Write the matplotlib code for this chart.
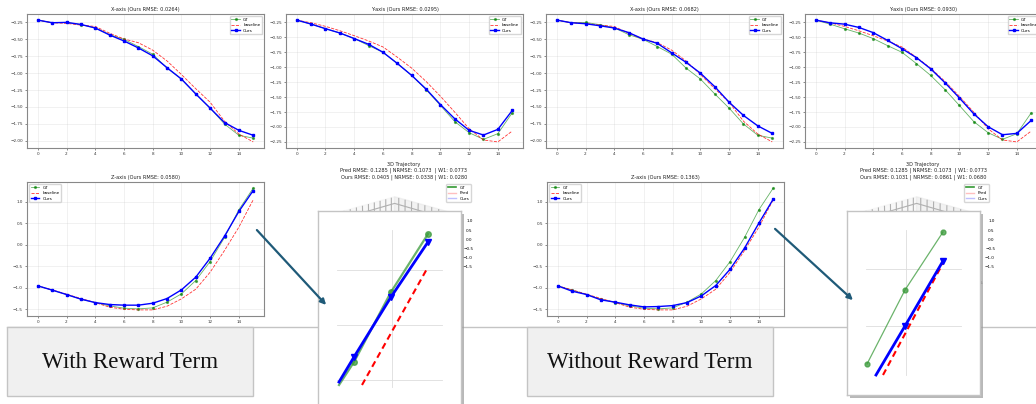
import matplotlib
matplotlib.use('Agg')
import matplotlib.pyplot as plt
from matplotlib.patches import Rectangle, FancyArrowPatch
from matplotlib.lines import Line2D

W, H = 1036, 404

# ---------------- data ----------------
steps = list(range(16))

gt_x = [-0.216, -0.255, -0.25, -0.284, -0.33, -0.43, -0.50, -0.607, -0.72, -0.925,
        -1.087, -1.307, -1.517, -1.752, -1.918, -1.96]
base_x = [-0.216, -0.255, -0.265, -0.29, -0.31, -0.41, -0.495, -0.55, -0.66, -0.82,
          -1.02, -1.23, -1.43, -1.71, -1.90, -2.016]
ours_x_reward = [-0.216, -0.255, -0.25, -0.28, -0.333, -0.436, -0.524, -0.627, -0.744, -0.92,
                 -1.087, -1.307, -1.517, -1.73, -1.845, -1.918]
ours_x_noreward = [-0.216, -0.255, -0.27, -0.30, -0.333, -0.40, -0.495, -0.56, -0.70, -0.84,
                   -1.0, -1.20, -1.43, -1.625, -1.78, -1.89]

gt_y = [-0.211, -0.278, -0.355, -0.427, -0.52, -0.638, -0.749, -0.937, -1.137, -1.375,
        -1.64, -1.91, -2.096, -2.207, -2.112, -1.763]
base_y = [-0.211, -0.256, -0.316, -0.389, -0.472, -0.56, -0.66, -0.832, -1.015, -1.237,
          -1.486, -1.752, -2.03, -2.218, -2.25, -2.068]
ours_y_reward = [-0.211, -0.278, -0.355, -0.427, -0.52, -0.616, -0.749, -0.937, -1.137, -1.364,
                 -1.625, -1.863, -2.057, -2.135, -2.04, -1.724]
ours_y_noreward = [-0.21, -0.256, -0.278, -0.333, -0.42, -0.55, -0.688, -0.838, -1.026, -1.26,
                   -1.514, -1.78, -1.996, -2.13, -2.107, -1.89]

gt_z = [-0.952, -1.05, -1.153, -1.26, -1.34, -1.416, -1.47, -1.486, -1.463, -1.33,
        -1.138, -0.828, -0.387, 0.17, 0.813, 1.316]
base_z = [-0.952, -1.045, -1.145, -1.245, -1.34, -1.447, -1.494, -1.51, -1.51, -1.424,
          -1.254, -1.03, -0.635, -0.132, 0.41, 1.045]
ours_z_reward = [-0.952, -1.05, -1.153, -1.26, -1.34, -1.385, -1.40, -1.40, -1.355, -1.246,
                 -1.045, -0.75, -0.31, 0.20, 0.774, 1.26]
ours_z_noreward = [-0.952, -1.076, -1.153, -1.277, -1.33, -1.393, -1.44, -1.432, -1.41, -1.34,
                   -1.184, -0.944, -0.565, -0.077, 0.503, 1.06]

titles_reward = ["X-axis (Ours RMSE: 0.0264)", "Y-axis (Ours RMSE: 0.0295)", "Z-axis (Ours RMSE: 0.0580)"]
titles_noreward = ["X-axis (Ours RMSE: 0.0682)", "Y-axis (Ours RMSE: 0.0930)", "Z-axis (Ours RMSE: 0.1363)"]

traj_title_reward = ("3D Trajectory\nPred RMSE: 0.1285 | NRMSE: 0.1073  | W1: 0.0773\n"
                     "Ours RMSE: 0.0405 | NRMSE: 0.0338 | W1: 0.0280")
traj_title_noreward = ("3D Trajectory\nPred RMSE: 0.1285 | NRMSE: 0.1073  | W1: 0.0773\n"
                       "Ours RMSE: 0.1031 | NRMSE: 0.0861 | W1: 0.0680")

caption_reward = "With Reward Term"
caption_noreward = "Without Reward Term"

# zoomed-in views of the 3D trajectory (inset units, y grows downward)
zoomA_gt_u = [21, 36, 73, 110]
zoomA_gt_v = [174, 151, 81, 23]
zoomA_ours_u = [21, 36, 73, 110]
zoomA_ours_v = [171, 146, 86, 31]
zoomA_pred_u = [44, 110]
zoomA_pred_v = [174, 56]

zoomB_gt_u = [20, 58, 96]
zoomB_gt_v = [153, 79, 21]
zoomB_ours_u = [29, 58, 96]
zoomB_ours_v = [164, 115, 50]
zoomB_pred_u = [36, 96]
zoomB_pred_v = [164, 52]

# ---------------- helpers ----------------
def frect(x0, y0, x1, y1):
    return [x0 / W, 1 - y1 / H, (x1 - x0) / W, (y1 - y0) / H]


def draw_panel(ax, gt, base, ours, title, loc):
    ax.plot(steps, gt, color='green', marker='o', ms=1.3, lw=0.6, alpha=0.6, label='GT')
    ax.plot(steps, base, color='red', ls='--', lw=0.6, alpha=0.8, label='baseline')
    ax.plot(steps, ours, color='blue', marker='s', ms=1.7, lw=1.0, label='Ours')
    ax.set_title(title, fontsize=3.6, pad=2, color='#222')
    ax.set_xticks(range(0, 15, 2))
    ax.tick_params(labelsize=3, length=1.5, width=0.4, pad=1.5, colors='#333')
    ax.grid(True, alpha=0.3, lw=0.4)
    for s in ax.spines.values():
        s.set_color('#888888')
        s.set_linewidth(0.8)
    ax.legend(loc=loc, fontsize=3, frameon=True, framealpha=0.8, edgecolor='#cccccc',
              borderpad=0.4, labelspacing=0.35, handlelength=2.0, fancybox=True)


def draw_3d(fig, r, gx, gy, gz, px, py, pz, ox, oy, oz, title, title_xy, leg_xy):
    ax = fig.add_axes(r, projection='3d')
    ax.plot(gx, gy, gz, color='green', lw=1.2, alpha=0.8, label='GT')
    ax.plot(px, py, pz, color='red', lw=1.0, alpha=0.25, label='Pred')
    ax.plot(ox, oy, oz, color='blue', lw=1.0, alpha=0.25, label='Ours')
    fig.text(title_xy[0] / W, 1 - title_xy[1] / H, title, ha='center', va='bottom',
             fontsize=3.6, color='#222', linespacing=1.25)
    ax.tick_params(labelsize=3, pad=0, width=0.4, length=1.5)
    ax.view_init(elev=20, azim=135)
    ax.legend(loc='upper right', bbox_to_anchor=(leg_xy[0] / W, 1 - leg_xy[1] / H),
              bbox_transform=fig.transFigure, fontsize=3, framealpha=0.8,
              edgecolor='#cccccc', borderpad=0.4, labelspacing=0.35, handlelength=2.0,
              borderaxespad=0)
    ax.set_facecolor('none')
    return ax


def draw_zoom(fig, r, gt_u, gt_v, ours_u, ours_v, pred_u, pred_v, w, h,
              vgrid, vext, hgrid, hext, gt_lw, gt_ms, gt_marks):
    x0, y0, x1, y1 = r
    sh = Rectangle(((x0 + 3) / W, 1 - (y1 + 3) / H), (x1 - x0) / W, (y1 - y0) / H,
                   transform=fig.transFigure, facecolor='#9a9a9a', edgecolor='none',
                   alpha=0.7, zorder=4)
    fig.add_artist(sh)
    ax = fig.add_axes(frect(x0, y0, x1, y1))
    ax.set_zorder(5)
    ax.set_facecolor('white')
    ax.set_xlim(0, w)
    ax.set_ylim(h, 0)
    ax.set_xticks([])
    ax.set_yticks([])
    for s in ax.spines.values():
        s.set_color('#c4c4c4')
        s.set_linewidth(1.0)
    for gx in vgrid:
        ax.plot([gx, gx], vext, color='#dddddd', lw=0.6)
    for gy in hgrid:
        ax.plot(hext, [gy, gy], color='#dddddd', lw=0.6)
    ax.plot(gt_u, gt_v, color='#3a9a3a', lw=gt_lw, alpha=0.75, marker='o', ms=gt_ms,
            markevery=gt_marks)
    ax.plot(pred_u, pred_v, color='red', lw=1.5, ls=(0, (3, 2)))
    ax.plot(ours_u, ours_v, color='blue', lw=2.0, marker='v', ms=5,
            markevery=list(range(1, len(ours_u))))
    return ax


# ---------------- figure ----------------
fig = plt.figure(figsize=(W / 100, H / 100), dpi=100)
fig.patch.set_facecolor('white')

# top rows
axA = fig.add_axes(frect(27, 14, 264, 148))
draw_panel(axA, gt_x, base_x, ours_x_reward, titles_reward[0], 'upper right')
axB = fig.add_axes(frect(286, 14, 523, 148))
draw_panel(axB, gt_y, base_y, ours_y_reward, titles_reward[1], 'upper right')
axC = fig.add_axes(frect(546, 14, 783, 148))
draw_panel(axC, gt_x, base_x, ours_x_noreward, titles_noreward[0], 'upper right')
axD = fig.add_axes(frect(805, 14, 1042, 148))
draw_panel(axD, gt_y, base_y, ours_y_noreward, titles_noreward[1], 'upper right')

# Z panels
axE = fig.add_axes(frect(27, 182, 264, 316))
draw_panel(axE, gt_z, base_z, ours_z_reward, titles_reward[2], 'upper left')
axF = fig.add_axes(frect(547, 182, 784, 316))
draw_panel(axF, gt_z, base_z, ours_z_noreward, titles_noreward[2], 'upper left')

# 3D trajectory axes (largely hidden by the zoom windows)
draw_3d(fig, frect(333, 180, 453, 303), gt_x, gt_y, gt_z, base_x, base_y, base_z,
        ours_x_reward, ours_y_reward, ours_z_reward, traj_title_reward, (404, 180), (471, 184))
draw_3d(fig, frect(855, 180, 975, 303), gt_x, gt_y, gt_z, base_x, base_y, base_z,
        ours_x_noreward, ours_y_noreward, ours_z_noreward, traj_title_noreward, (923, 180), (989, 184))

# horizontal separator
fig.add_artist(Line2D([7 / W, 1], [1 - 327 / H, 1 - 327 / H], transform=fig.transFigure,
                      color='#c4c4c4', lw=1.0, zorder=1.5))

# caption boxes
for (bx0, bx1, txt) in [(7, 253, caption_reward), (527, 773, caption_noreward)]:
    fig.add_artist(Rectangle((bx0 / W, 1 - 396 / H), (bx1 - bx0) / W, 69 / H,
                             transform=fig.transFigure, facecolor='#f0f0f0',
                             edgecolor='#c4c4c4', lw=1.0, zorder=2))
    fig.text((bx0 + bx1) / 2 / W, 1 - 363 / H, txt, ha='center', va='center',
             fontsize=16.6, family='Liberation Serif', color='#111111', zorder=3)

# zoom windows
draw_zoom(fig, (318, 211, 461, 408), zoomA_gt_u, zoomA_gt_v, zoomA_ours_u, zoomA_ours_v,
          zoomA_pred_u, zoomA_pred_v, 143, 197,
          [74], [19, 176], [59, 114, 169], [19, 124], 1.6, 4, [1, 2, 3])
draw_zoom(fig, (847, 211, 980, 395), zoomB_gt_u, zoomB_gt_v, zoomB_ours_u, zoomB_ours_v,
          zoomB_pred_u, zoomB_pred_v, 133, 184,
          [59], [19, 164], [58, 115], [19, 114], 0.9, 3.5, [0, 1, 2])

# arrows
for (p0, p1) in [((255, 228), (328, 307)), ((773, 227), (855, 302))]:
    fig.add_artist(FancyArrowPatch((p0[0] / W, 1 - p0[1] / H), (p1[0] / W, 1 - p1[1] / H),
                                   transform=fig.transFigure, arrowstyle='-|>',
                                   mutation_scale=8, color='#1f5a78', lw=1.6, zorder=10))

fig.savefig('out.png', dpi=100)
